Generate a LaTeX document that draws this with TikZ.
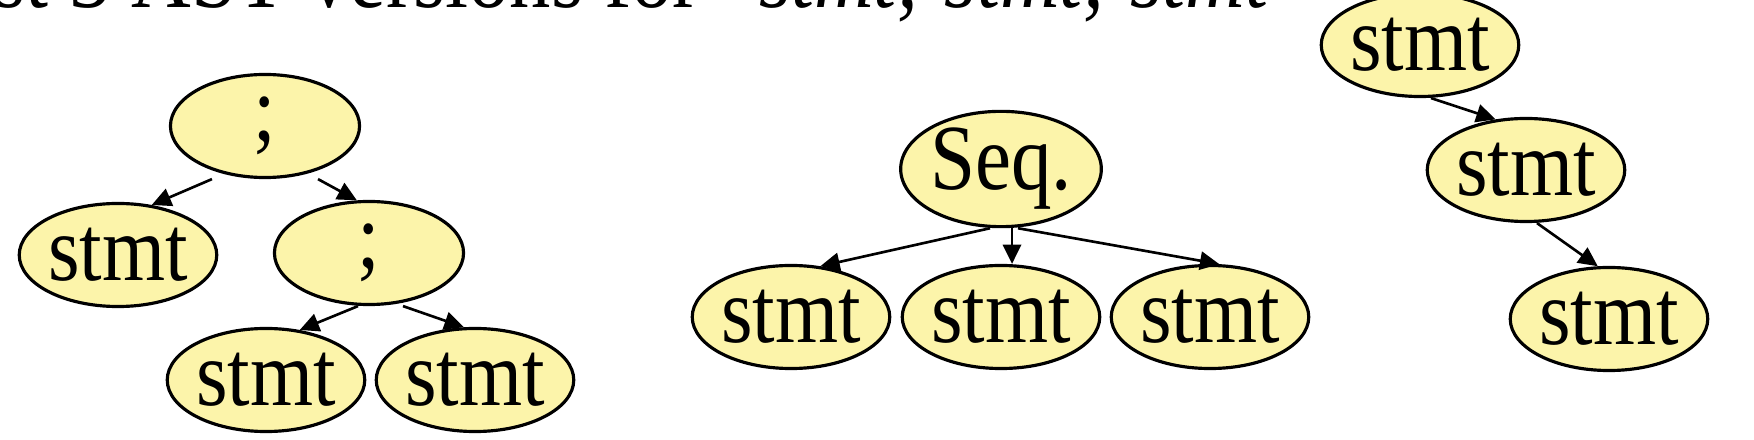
\documentclass[tikz,border=0pt]{standalone}
\usepackage{fontspec}
\setmainfont{Liberation Serif}
\newfontfamily\slidefont[FakeStretch=0.87, ItalicFeatures={FakeStretch=0.87}]{Liberation Serif}
\usepackage{tikz}
\usetikzlibrary{shapes,arrows}
\usetikzlibrary{arrows.meta}
\definecolor{astyellow}{RGB}{252,244,170}

\begin{document}
\begin{tikzpicture}[x=0.01cm,y=-0.01cm]
\tikzstyle{every node}=[font=\slidefont\fontsize{26.5}{30}\selectfont]
\tikzstyle{astnode}=[draw, ellipse, fill=astyellow, line width=0.9pt, minimum width=1.89cm, minimum height=1.03cm, inner sep=0pt]
\tikzstyle{astedge}=[-{Triangle[length=5.5pt,width=5.2pt]}, line width=0.75pt]
\useasboundingbox (0,0) rectangle (1754,440);
\clip (0,0) rectangle (1754,440);
\node (title) [anchor=base west, inner sep=0pt, font=\slidefont\fontsize{27}{32}\selectfont] at (-7,8) {st 3 AST versions for\hspace{0.4em} \textit{stmt; stmt; stmt}};
% nested ;
\node (semi1) [astnode] at (265,126) {;};
\node (stmt1) [astnode] at (118,255) {stmt};
\node (semi2) [astnode] at (369,253) {;};
\node (stmt2) [astnode] at (266,380) {stmt};
\node (stmt3) [astnode] at (475,380) {stmt};
\draw [astedge] ([xshift=-0.53cm]semi1.south) -- (stmt1.56);
\draw [astedge] ([xshift=0.53cm]semi1.south) -- (semi2.103);
\draw [astedge] ([xshift=-0.11cm]semi2.south) -- (stmt2.56);
\draw [astedge] ([xshift=0.34cm]semi2.south) -- (stmt3.102);
% Seq
\node (seq) [astnode] at (1001,169) {Seq.};
\node (seqa) [astnode] at (791,317) {stmt};
\node (seqb) [astnode] at (1001,317) {stmt};
\node (seqc) [astnode] at (1210,317) {stmt};
\draw [astedge] ([xshift=-0.11cm]seq.south) -- (seqa.60);
\draw [astedge] ([xshift=0.11cm]seq.south) -- ([xshift=0.11cm]seqb.north);
\draw [astedge] ([xshift=0.17cm]seq.south) -- (seqc.80);
% chain
\node (chain1) [astnode] at (1420,45) {stmt};
\node (chain2) [astnode] at (1526,170) {stmt};
\node (chain3) [astnode] at (1609,319) {stmt};
\draw [astedge] ([xshift=0.11cm]chain1.south) -- (chain2.121);
\draw [astedge] ([xshift=0.11cm]chain2.south) -- (chain3.102);
\end{tikzpicture}
\end{document}
